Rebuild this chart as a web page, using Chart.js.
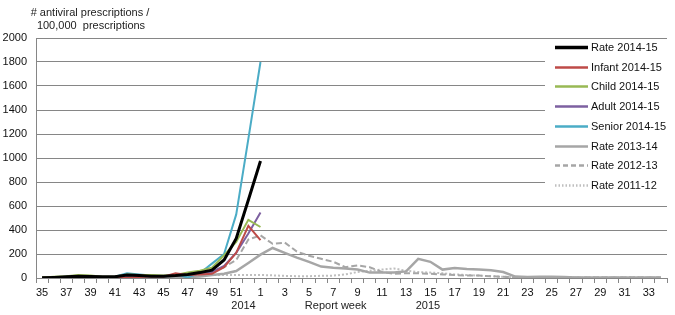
<!DOCTYPE html>
<html><head><meta charset="utf-8">
<script src="https://cdn.jsdelivr.net/npm/chart.js@4/dist/chart.umd.min.js"></script>
<style>html,body{margin:0;padding:0;background:#fff}</style>
</head><body>
<canvas id="c" width="675" height="315"></canvas>
<script>
// Report weeks: 35..52 (2014) then 1..34 (2015)
const weeks = ["35","36","37","38","39","40","41","42","43","44","45","46","47","48","49","50","51","52",
  "1","2","3","4","5","6","7","8","9","10","11","12","13","14","15","16","17","18","19","20",
  "21","22","23","24","25","26","27","28","29","30","31","32","33","34"];
const yTicks = [0,200,400,600,800,1000,1200,1400,1600,1800,2000];
const seriesNames = ["Rate 2014-15","Infant 2014-15","Child 2014-15","Adult 2014-15","Senior 2014-15","Rate 2013-14","Rate 2012-13","Rate 2011-12"];

const rate1415   = [2,5,10,15,12,10,10,25,20,15,15,20,30,45, 65,150,330,650, 975];
const infant1415 = [0,2,5,10,8,5,5,0,8,15,10,40,25,30, 35,90,210,435, 315];
const child1415  = [5,10,15,25,20,10,10,30,25,25,20,25,45,60, 85,190,300,485, 425];
const adult1415  = [2,5,8,12,10,8,10,20,15,15,15,20,30,35, 50,100,210,370, 545];
const senior1415 = [0,5,10,15,10,5,10,40,30,20,10,30,5,40, 120,200,530,1160, 1800];
const rate1314   = [2,3,5,5,5,5,5,5,5,5,5,5,8,12, 25,35,58,125,
  195,250,210,170,135,95,85,80,70,45,45,45,55,160,135,70,83,75,70,65,50,12,8,10,10,8,5,5,5,5,5,5,5,5];
const rate1213   = [2,3,5,5,5,5,5,8,10,10,12,15,20,35, 50,90,150,320,
  355,285,295,220,185,160,135,90,105,90,50,35,40,40,35,30,25,20,20,15,10,5,5,5,5,5,5,5,5,5,5,5,5,5];
const rate1112   = [5,5,5,5,5,8,8,10,10,10,12,15,20,22, 25,25,25,25,
  25,22,18,15,15,18,20,30,50,60,70,80,60,50,45,40,30,25,20,15,10,8,5,5,5,5,5,5,5,5,5,5,5,5];

const seriesData = [rate1415, infant1415, child1415, adult1415, senior1415, rate1314, rate1213, rate1112];
const colors = ["#000000","#be4b48","#98b954","#7d60a0","#4bacc6","#a6a6a6","#a6a6a6","#bfbfbf"];
const widths = [3,2,2,2,2,2.5,2,2];
const dashes = [[],[],[],[],[],[],[6,3],[2,2]];

const FONT = "'Liberation Sans', Arial, sans-serif";
const GRID = "#868686";

const datasets = seriesNames.map((n,i)=>({
  label:n, data:seriesData[i], borderColor:colors[i], backgroundColor:colors[i],
  borderWidth:widths[i], borderDash:dashes[i], pointRadius:0, tension:0, fill:false
}));

const overlay = {
  id:'overlay',
  afterDraw(chart){
    const ctx = chart.ctx;
    const xs = chart.scales.x;
    ctx.save();
    ctx.fillStyle = "#222";
    ctx.font = "11px " + FONT;
    ctx.textAlign = "center"; ctx.textBaseline = "middle";
    ctx.fillText("# antiviral prescriptions /", 90, 13);
    ctx.fillText("100,000  prescriptions", 91, 26);
    ctx.fillText("2014", xs.getPixelForValue(16.6), 306);
    ctx.fillText("Report week", xs.getPixelForValue(24.2), 306);
    ctx.fillText("2015", xs.getPixelForValue(31.8), 306);
    // legend
    ctx.fillStyle = "#fff";
    ctx.fillRect(545, 40, 124, 156);
    ctx.textAlign = "left";
    seriesNames.forEach((n,i)=>{
      const y = Math.round(47 + i*19.7) + 0.5;
      ctx.beginPath();
      ctx.strokeStyle = colors[i];
      ctx.lineWidth = widths[i] === 3 ? 3.5 : 2.5;
      ctx.setLineDash(dashes[i].length ? (i===6 ? [5,3] : [1.5,2]) : []);
      ctx.moveTo(555, y); ctx.lineTo(588, y);
      ctx.stroke();
      ctx.setLineDash([]);
      ctx.fillStyle = "#111";
      ctx.fillText(n, 591, y);
    });
    ctx.restore();
  }
};

new Chart(document.getElementById('c'), {
  type:'line',
  data:{labels:weeks, datasets},
  options:{
    responsive:false, animation:false, devicePixelRatio:1,
    layout:{padding:{left:0,right:8,top:38,bottom:0}},
    plugins:{legend:{display:false}, tooltip:{enabled:false}},
    scales:{
      x:{
        offset:true,
        grid:{display:true, drawOnChartArea:false, drawTicks:true, tickLength:5, offset:true, color:GRID},
        border:{color:GRID, width:1},
        ticks:{autoSkip:false, maxRotation:0, minRotation:0, padding:3, color:"#111",
          font:{family:FONT, size:11},
          callback:function(v,i){ return i%2===0 ? this.getLabelForValue(v) : ""; }},
        afterFit(s){ s.height = 37; }
      },
      y:{
        min:0, max:2000,
        afterBuildTicks(s){ s.ticks = yTicks.map(v=>({value:v})); },
        grid:{color:GRID, drawTicks:false, lineWidth:1},
        border:{color:GRID, width:1},
        ticks:{padding:9, color:"#111", font:{family:FONT, size:11},
          callback:(v)=>String(v)},
        afterFit(s){ s.width = 36; }
      }
    }
  },
  plugins:[overlay]
});
</script>
</body></html>
